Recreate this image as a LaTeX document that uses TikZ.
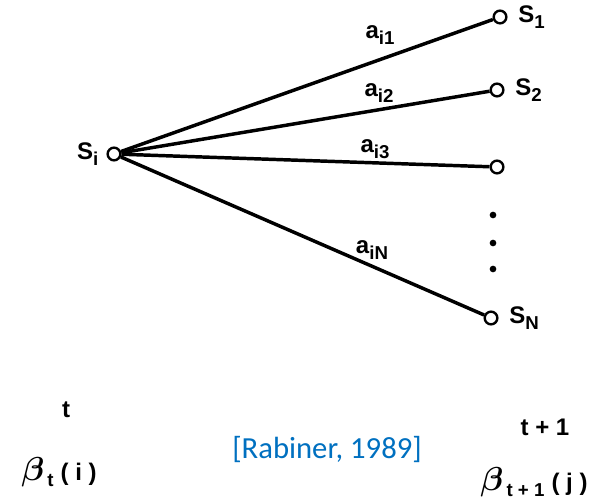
\documentclass[tikz,border=0pt]{standalone}
\usepackage{amsmath,bm}
\usepackage{fontspec}
\setsansfont{Liberation Sans}
\newfontfamily\calibri{Carlito}
\usetikzlibrary{positioning}
\definecolor{citeblue}{RGB}{0,112,192}
\newcommand{\lowsub}[1]{\raisebox{-0.5ex}{\fontsize{14}{14}\selectfont #1}}
\newcommand{\bigbeta}{{\fontsize{25}{25}\selectfont$\bm{\beta}$}}

\tikzset{
    state/.style={circle, draw, line width=1.8pt, inner sep=0pt, minimum size=9.5pt},
    trans/.style={line width=2.6pt},
    lbl/.style={font=\sffamily\bfseries\fontsize{18}{18}\selectfont, inner sep=1pt},
}

\begin{document}
\begin{tikzpicture}[x=0.75pt, y=-0.75pt]
    \useasboundingbox (0,0) rectangle (613,502);
    % states
    \node[state] (si) at (114,154) {};
    \node[state] (s1) at (500,17) {};
    \node[state] (s2) at (497,90) {};
    \node[state] (s3) at (497,167) {};
    \node[state] (sn) at (491,318) {};

    \node[lbl, left=5pt of si] (lsi) {S\lowsub{i}};
    \node[lbl, right=7pt of s1] (ls1) {S\lowsub{1}};
    \node[lbl, right=7pt of s2] (ls2) {S\lowsub{2}};
    \node[lbl, right=7pt of sn] (lsn) {S\lowsub{N}};

    % transitions
    \draw[trans] (si) -- (s1);
    \draw[trans] (si) -- (s2);
    \draw[trans] (si) -- (s3);
    \draw[trans] (si) -- (sn);

    \node[lbl] (ai1) at (380,35) {a\lowsub{i1}};
    \node[lbl] (ai2) at (379,93) {a\lowsub{i2}};
    \node[lbl] (ai3) at (375,149) {a\lowsub{i3}};
    \node[lbl] (ain) at (372,250) {a\lowsub{iN}};

    % vertical dots
    \foreach \y in {215,243,269}
        \fill (493,\y) circle (2.5pt);

    % time labels
    \node[lbl] (tt) at (66,410) {t};
    \node[lbl] (bt) at (59,472) {\bigbeta\lowsub{\,t\,}\,( i )};
    \node[lbl] (tt1) at (545,427) {t + 1};
    \node[lbl] (bt1) at (534,482) {\bigbeta\lowsub{\,t + 1\,}\,( j )};

    \node[font=\calibri\fontsize{23}{23}\selectfont, text=citeblue] (cite) at (327,450) {[Rabiner, 1989]};
\end{tikzpicture}
\end{document}
